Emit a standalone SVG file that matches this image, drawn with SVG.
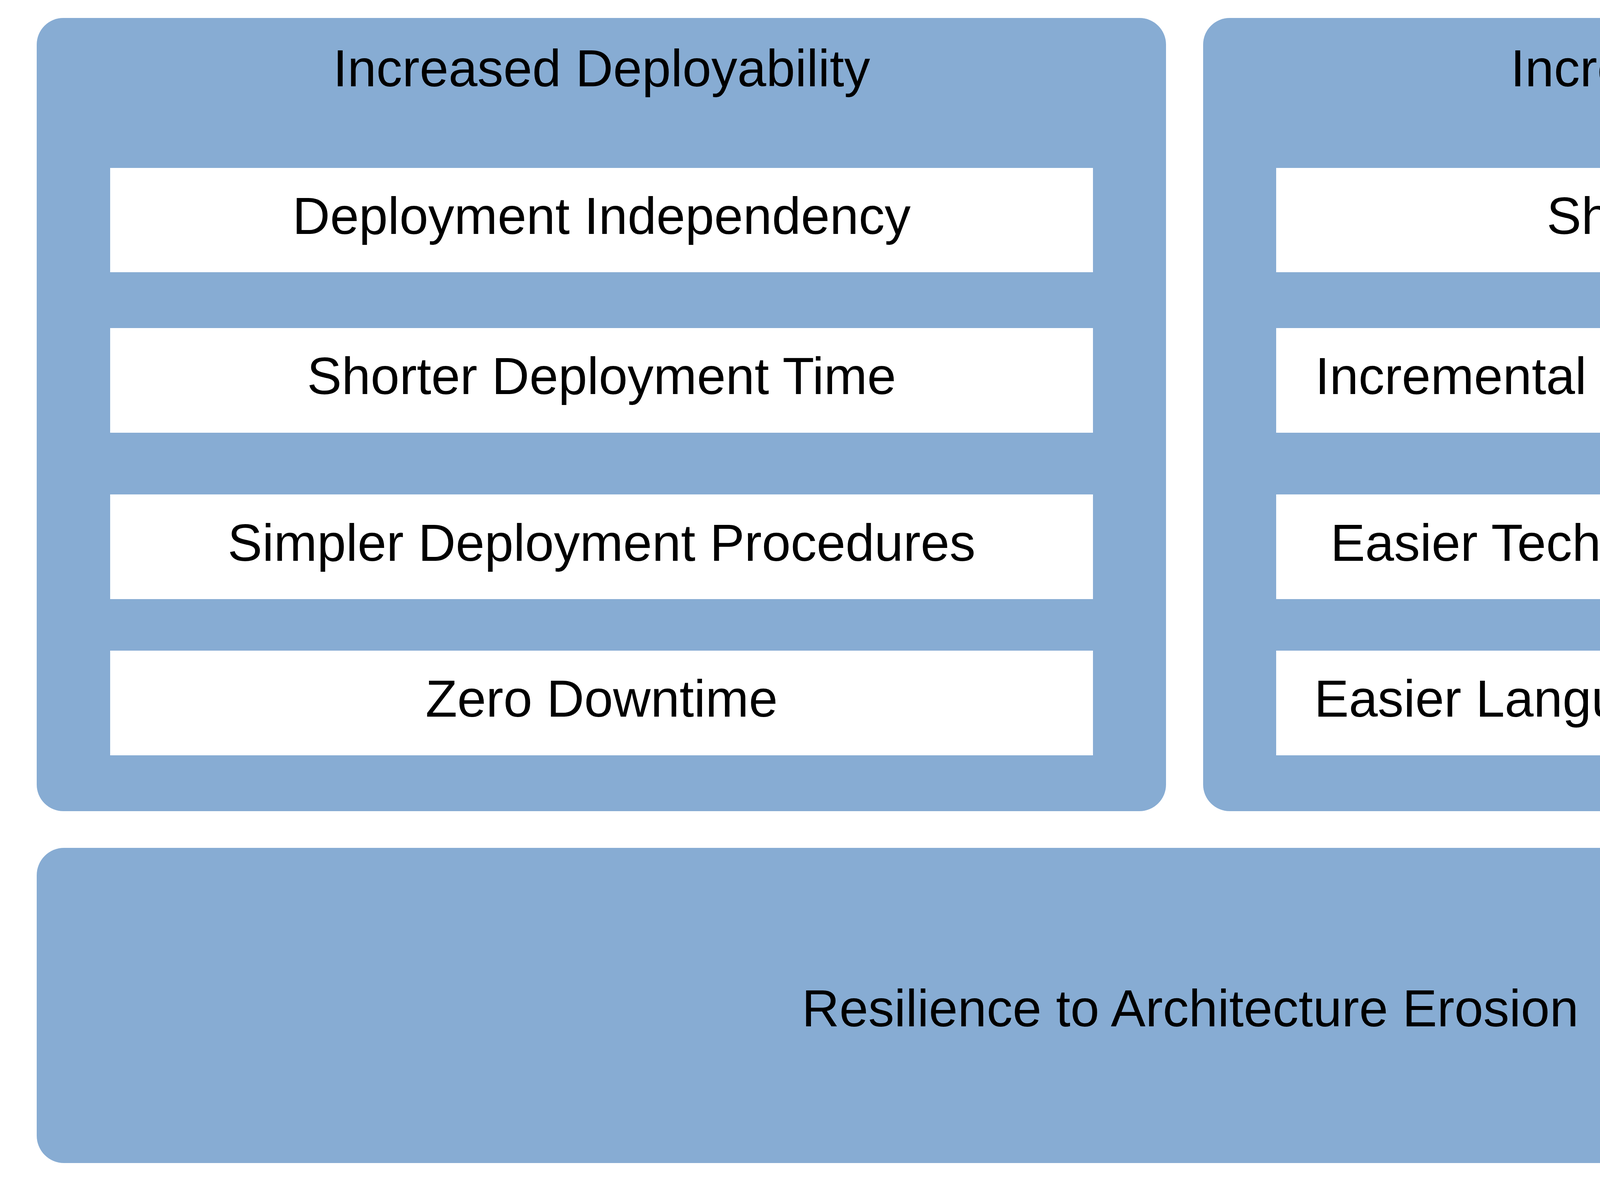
<svg xmlns="http://www.w3.org/2000/svg" width="6088" height="3024" viewBox="0 0 6088 3024">
<style>
.panel{fill:#87acd3;}
.item{fill:#ffffff;}
text{font-family:"Liberation Sans",Arial,sans-serif;font-size:133px;fill:#000000;text-anchor:middle;}
</style>
<rect x="0" y="0" width="6088" height="3024" fill="#ffffff"/>
<g id="deployability">
<rect class="panel" x="94" y="46" width="2891" height="2031" rx="68" ry="68"/>
<text x="1540" y="221">Increased Deployability</text>
</g>
<g id="deployment-independency">
<rect class="item" x="282" y="430" width="2516" height="267"/>
<text x="1540" y="599">Deployment Independency</text>
</g>
<g id="shorter-deployment-time">
<rect class="item" x="282" y="840" width="2516" height="268"/>
<text x="1540" y="1009">Shorter Deployment Time</text>
</g>
<g id="simpler-deployment-procedures">
<rect class="item" x="282" y="1266" width="2516" height="268"/>
<text x="1540" y="1436">Simpler Deployment Procedures</text>
</g>
<g id="zero-downtime">
<rect class="item" x="282" y="1666" width="2516" height="268"/>
<text x="1540" y="1835">Zero Downtime</text>
</g>
<g id="modifiability">
<rect class="panel" x="3080" y="46" width="2891" height="2031" rx="68" ry="68"/>
<text x="4525" y="221">Increased Modifiability</text>
</g>
<g id="shorter-cycle-time">
<rect class="item" x="3267" y="430" width="2516" height="267"/>
<text x="4525" y="599">Shorter Cycle Time</text>
</g>
<g id="incremental-quality">
<rect class="item" x="3267" y="840" width="2516" height="268"/>
<text x="4520" y="1009">Incremental Quality Attributes Changes</text>
</g>
<g id="easier-technology">
<rect class="item" x="3267" y="1266" width="2516" height="268"/>
<text x="4525" y="1436">Easier Technology Selection Changes</text>
</g>
<g id="easier-language">
<rect class="item" x="3267" y="1666" width="2516" height="268"/>
<text x="4525" y="1835">Easier Language and Library Upgrades</text>
</g>
<g id="resilience">
<rect class="panel" x="94" y="2171" width="5906" height="807" rx="70" ry="70"/>
<text x="3047" y="2628">Resilience to Architecture Erosion</text>
</g>
<g id="connectors"></g>
</svg>
